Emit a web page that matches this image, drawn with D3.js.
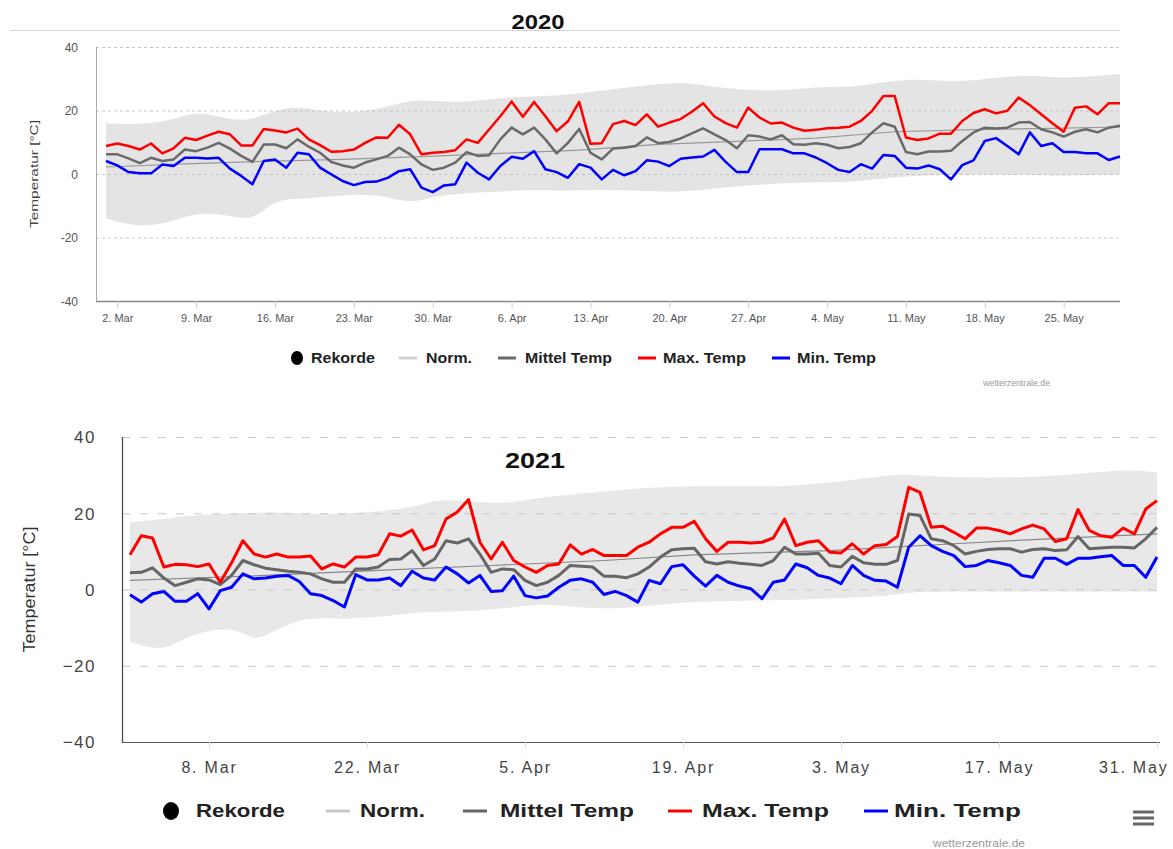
<!DOCTYPE html>
<html><head><meta charset="utf-8">
<script src="https://cdn.jsdelivr.net/npm/d3@7"></script>
<style>body{margin:0;background:#fff;}svg{display:block;font-family:"Liberation Sans",Arial,sans-serif;}</style>
</head><body>
<svg id="c" width="1173" height="849"></svg>
<script>
// ---------- DATA ----------
const yTickValues = [40, 20, 0, -20, -40];
const legendLabels = ["Rekorde", "Norm.", "Mittel Temp", "Max. Temp", "Min. Temp"];
const watermark = "wetterzentrale.de";
const yTitle = "Temperatur [°C]";

// 2020 (daily from 1 Mar 2020)
const title2020 = "2020";
const start2020 = "2020-03-01";
const ticks2020 = ["2. Mar","9. Mar","16. Mar","23. Mar","30. Mar","6. Apr","13. Apr","20. Apr","27. Apr","4. May","11. May","18. May","25. May"];
const max2020 = [
 8.8,9.6,8.8,7.7,9.6,6.5,8.1,11.4,10.7,12.1,
 13.3,12.5,9.0,9.0,14.2,13.7,13.1,14.3,10.9,9.1,
 7.0,7.2,7.7,9.8,11.5,11.4,15.5,12.5,6.2,6.7,
 6.9,7.5,10.9,9.8,14.0,18.2,22.8,18.0,22.7,18.2,
 13.5,16.6,22.7,9.5,9.7,15.7,16.7,15.4,18.8,14.9,
 16.2,17.3,19.6,22.3,18.1,16.0,14.6,20.9,17.8,15.9,
 16.2,14.6,13.6,13.9,14.4,14.6,14.9,16.7,19.9,24.6,
 24.6,11.5,10.7,11.2,12.7,12.7,16.7,19.2,20.4,19.1,
 19.9,24.1,21.7,18.8,16.0,13.3,20.9,21.3,18.8,22.3,
 22.3];
const mittel2020 = [
 6.2,6.2,4.9,3.4,5.1,4.1,4.6,7.7,7.2,8.3,
 9.8,8.0,5.7,3.8,9.3,9.3,8.1,10.9,8.6,6.7,
 3.8,2.7,2.0,3.6,4.6,5.7,8.3,6.2,3.0,1.3,
 2.0,3.6,6.9,5.7,5.9,10.9,14.6,12.5,14.6,10.9,
 6.5,9.8,14.2,6.7,4.6,8.0,8.3,8.8,11.5,9.7,
 10.1,11.2,12.8,14.4,12.5,10.7,8.1,12.2,11.8,10.9,
 12.2,9.4,9.2,9.7,9.2,8.1,8.5,9.7,13.1,16.0,
 14.9,6.9,6.2,7.1,7.1,7.3,10.4,13.1,14.6,14.3,
 14.6,16.2,16.4,14.1,13.1,11.8,13.3,14.1,13.1,14.6,
 15.2];
const min2020 = [
 4.1,2.7,0.6,0.2,0.2,3.0,2.5,5.1,5.1,4.9,
 5.1,1.7,-0.6,-3.2,4.1,4.6,2.0,6.7,6.2,2.0,
 -0.1,-2.2,-3.5,-2.5,-2.4,-1.2,0.9,1.5,-4.3,-5.7,
 -3.6,-3.2,3.6,0.4,-1.7,2.5,5.4,4.8,7.2,1.5,
 0.6,-1.2,3.1,2.0,-1.7,1.3,-0.4,0.9,4.3,3.9,
 2.5,4.8,5.2,5.5,7.6,3.8,0.6,0.6,7.8,7.8,
 7.8,6.5,6.5,5.2,3.4,1.3,0.6,3.1,1.7,6.0,
 5.7,2.0,1.7,2.7,1.5,-1.7,2.8,4.3,10.4,11.3,
 8.8,6.2,13.1,8.8,9.7,6.9,6.9,6.5,6.5,4.4,
 5.5];
const normDays2020 = [0,7,14,21,28,35,42,49,56,63,70,77,84,90];
const norm2020 = [2.2,3.2,4.0,4.6,5.5,6.5,7.5,9.3,10.3,11.3,13.3,14.0,14.4,14.8];
const bandDays2020 = [0,3,6,8,11,13,15,17,20,24,27,29,32,35,38,40,45,51,54,59,64,66,71,75,78,82,85,90];
const bandLow2020 = [-14,-17,-15,-12,-13,-15,-8,-8,-7,-6,-9.5,-7,-6,-5.5,-5,-5.4,-4.8,-5.9,-4.5,-3,-2.5,-2.7,-0.6,-0.3,-0.1,-0.3,-0.6,-0.1];
const bandHigh2020 = [16,15.5,17,20,17,17,20,21.5,19,20,23.5,23,22.5,24,24.5,24.6,26.7,29.4,27.3,25.7,27.8,27,30.4,28.8,29.9,31.5,29.9,31.5];

// 2021 (daily from 1 Mar 2021)
const title2021 = "2021";
const start2021 = "2021-03-01";
const ticks2021 = ["8. Mar","22. Mar","5. Apr","19. Apr","3. May","17. May","31. May"];
const max2021 = [
 9.1,14.1,13.5,5.9,6.6,6.5,6.0,6.7,1.9,7.0,
 12.8,9.3,8.5,9.3,8.5,8.5,8.8,5.4,6.7,5.9,
 8.5,8.5,9.1,14.6,14.0,15.6,10.4,11.5,18.5,20.3,
 23.6,12.4,8.0,12.4,7.6,5.9,4.5,6.3,6.7,11.7,
 9.3,10.5,8.9,8.9,8.9,11.1,12.4,14.6,16.3,16.3,
 17.9,13.3,10.0,12.4,12.4,12.2,12.4,13.5,18.5,11.5,
 12.4,12.8,9.8,9.6,12.0,9.3,11.5,11.8,13.9,26.8,
 25.5,16.3,16.6,15.0,13.3,16.1,16.1,15.5,14.6,15.9,
 16.9,15.9,12.6,13.3,21.0,15.5,14.1,13.7,16.1,14.6,
 21.1,23.3];
const mittel2021 = [
 4.4,4.5,5.7,3.0,1.0,1.9,2.8,2.5,1.3,3.7,
 7.6,6.5,5.6,5.2,4.8,4.5,4.1,2.8,1.9,1.9,
 5.4,5.4,5.9,7.9,8.0,10.2,6.3,8.0,12.8,12.2,
 13.3,9.3,4.5,5.4,5.2,2.4,1.0,1.9,3.7,6.3,
 6.1,5.9,3.5,3.5,3.1,4.1,5.9,8.5,10.4,10.7,
 10.8,7.3,6.7,7.3,6.9,6.6,6.3,7.6,11.1,9.3,
 9.3,9.5,6.3,5.9,8.7,7.0,6.6,6.6,7.6,19.8,
 19.4,13.3,12.8,11.5,9.3,10.0,10.5,10.7,10.7,9.8,
 10.5,10.7,10.2,10.4,13.9,10.7,10.9,11.1,11.1,10.9,
 13.3,16.3];
const min2021 = [
 -1.4,-3.3,-1.1,-0.5,-3.1,-3.1,-1.1,-5.1,-0.3,0.6,
 4.1,2.8,3.0,3.5,3.7,2.1,-1.1,-1.6,-2.9,-4.6,
 3.9,2.5,2.5,3.0,1.0,4.8,3.0,2.5,5.9,4.1,
 1.7,3.7,-0.5,-0.3,3.5,-1.6,-2.2,-1.7,0.6,2.4,
 2.8,1.9,-1.3,-0.5,-1.6,-3.3,2.4,1.5,6.0,6.5,
 3.5,0.9,3.7,1.9,0.9,0.2,-2.4,1.9,2.5,6.7,
 5.7,3.7,3.0,1.5,6.3,3.7,2.4,2.2,0.6,11.1,
 14.1,11.5,10.0,8.9,6.0,6.3,7.6,7.0,6.3,3.7,
 3.2,8.2,8.2,6.6,8.2,8.2,8.6,8.9,6.3,6.3,
 3.2,8.5];
const normDays2021 = [0,12,22,32,42,50,62,73,80,91];
const norm2021 = [2.4,3.7,5.0,6.3,7.6,9.1,10.2,12.0,13.1,14.6];
const bandDays2021 = [0,3,5,9,11,12,15,17,19,22,26,27,31,33,36,38,43,48,55,59,62,68,69,76,83,88,91];
const bandLow2021 = [-13.8,-16.4,-12,-9.4,-13.4,-12,-7.7,-7.5,-7.7,-7.2,-5.9,-5.9,-5.5,-5,-3.8,-4.2,-5.5,-3.3,-2.9,-2.7,-2.4,-1.6,-0.5,-0.5,-0.5,-0.5,-0.5];
const bandHigh2021 = [17.6,18.5,19.4,20,20,20.3,20,19.8,20,20.3,22,23.8,23,22.4,24,24.6,26,27.2,27,27.2,28,30.3,30,29,29.9,31.6,30.7];

// ---------- DRAWING ----------
const svg = d3.select("#c");
const parseDay = d3.utcParse("%Y-%m-%d");

function drawChart(o) {
  const g = svg.append("g");
  const start = parseDay(o.start);
  const day = i => d3.utcDay.offset(start, i);
  const x = d3.scaleUtc().domain([start, day(o.max.length - 1)]).range(o.xr);
  const y = d3.scaleLinear().domain([-40, 40]).range(o.yr);
  const yearStr = o.start.slice(0, 4);
  const tickParse = d3.utcParse("%d. %b %Y");
  const tickDates = o.ticks.map(t => tickParse(t + " " + yearStr));

  // band
  const band = o.bandDays.map((d, i) => ({d, lo: o.bandLow[i], hi: o.bandHigh[i]}));
  g.append("path").datum(band)
    .attr("d", d3.area().x(p => x(day(p.d))).y0(p => y(p.lo)).y1(p => y(p.hi)).curve(d3.curveBasis))
    .attr("fill", o.bandColor);

  // grid
  g.append("g").selectAll("line").data(yTickValues.filter(v => v > -40)).join("line")
    .attr("x1", o.plotL).attr("x2", o.plotR)
    .attr("y1", v => y(v) + 0.5).attr("y2", v => y(v) + 0.5)
    .attr("stroke", o.gridColor).attr("stroke-width", 1).attr("stroke-dasharray", o.gridDash);

  // y axis labels
  const ya = g.append("g").attr("transform", `translate(${o.yLabelX},0)`)
    .call(d3.axisLeft(y).tickValues(yTickValues).tickSize(0).tickPadding(0)
      .tickFormat(v => v < 0 ? o.minus + Math.abs(v) : String(v)));
  ya.select(".domain").remove();
  ya.selectAll("text").attr("font-size", o.yFont).attr("fill", o.labelColor)
    .attr("font-family", "inherit").attr("letter-spacing", o.yLetter).attr("dy", "0.35em");

  // axis lines
  g.append("line").attr("x1", o.plotL + 0.5).attr("x2", o.plotL + 0.5).attr("y1", o.yr[1]).attr("y2", o.yr[0])
    .attr("stroke", o.leftAxisColor).attr("stroke-width", o.leftAxisW);

  // x axis
  const xa = g.append("g").attr("transform", `translate(0,${o.yr[0]})`)
    .call(d3.axisBottom(x).tickValues(tickDates).tickSize(o.tickLen).tickPadding(o.xPad)
      .tickFormat((d, i) => o.ticks[i]));
  xa.select(".domain").attr("d", `M${o.plotL},0.5H${o.plotR}`).attr("stroke", o.bottomAxisColor).attr("stroke-width", o.bottomAxisW);
  xa.selectAll(".tick line").attr("stroke", o.tickColor);
  xa.selectAll("text").attr("font-size", o.xFont).attr("fill", o.labelColor)
    .attr("font-family", "inherit").attr("letter-spacing", o.xLetter);
  if (o.lastLabelEnd) {
    xa.selectAll(".tick").filter((d, i) => i === o.ticks.length - 1).select("text")
      .attr("text-anchor", "end").attr("x", o.lastLabelEnd - x(tickDates[tickDates.length - 1]));
  }

  // y title
  g.append("text").attr("transform", `translate(${o.yTitleX},${(o.yr[0] + o.yr[1]) / 2}) rotate(-90)`)
    .attr("text-anchor", "middle").attr("font-size", o.yTitleFont).attr("fill", o.yTitleColor)
    .attr("textLength", o.yTitleLen).attr("lengthAdjust", "spacingAndGlyphs").text(yTitle);

  // series
  const line = d3.line().x((v, i) => x(day(i))).y(v => y(v));
  const normLine = d3.line().x((v, i) => x(day(o.normDays[i]))).y(v => y(v));
  g.append("path").datum(o.norm).attr("d", normLine).attr("fill", "none")
    .attr("stroke", o.normColor).attr("stroke-width", o.normW);
  [[o.mittel, o.mittelColor], [o.max, "#ff0000"], [o.min, "#0000ff"]].forEach(([arr, c]) => {
    g.append("path").datum(arr).attr("d", line).attr("fill", "none")
      .attr("stroke", c).attr("stroke-width", o.lineW).attr("stroke-linejoin", "round");
  });

  // title
  g.append("text").attr("x", o.titleX).attr("y", o.titleY).attr("text-anchor", "middle")
    .attr("font-size", o.titleFont).attr("font-weight", "bold").attr("fill", "#111")
    .attr("textLength", o.titleLen).attr("lengthAdjust", "spacingAndGlyphs").text(o.title);

  // legend
  const lg = g.append("g");
  const colors = ["#000", o.normLegendColor, o.mittelColor, "#ff0000", "#0000ff"];
  legendLabels.forEach((lab, i) => {
    const it = o.legend[i];
    if (i === 0) {
      lg.append("ellipse").attr("cx", it.sym).attr("cy", o.legendY).attr("rx", o.dotRx).attr("ry", o.dotRy).attr("fill", "#000");
    } else {
      lg.append("line").attr("x1", it.sym).attr("x2", it.sym + o.symLen)
        .attr("y1", o.legendY).attr("y2", o.legendY).attr("stroke", colors[i]).attr("stroke-width", o.symW);
    }
    lg.append("text").attr("x", it.tx).attr("y", o.legendY).attr("dy", "0.36em")
      .attr("font-size", o.legendFont).attr("font-weight", "bold").attr("fill", "#222")
      .attr("textLength", it.w).attr("lengthAdjust", "spacingAndGlyphs").text(lab);
  });

  // watermark
  g.append("text").attr("x", o.wmX).attr("y", o.wmY).attr("font-size", o.wmFont).attr("fill", "#999")
    .attr("textLength", o.wmLen).attr("lengthAdjust", "spacingAndGlyphs").text(watermark);
}

// top rule for 2020 chart
svg.append("line").attr("x1", 10).attr("x2", 1120).attr("y1", 30.5).attr("y2", 30.5).attr("stroke", "#d8d8d8");

drawChart({
  title: title2020, start: start2020, ticks: ticks2020,
  max: max2020, mittel: mittel2020, min: min2020, norm: norm2020, normDays: normDays2020,
  bandDays: bandDays2020, bandLow: bandLow2020, bandHigh: bandHigh2020,
  xr: [106, 1120], yr: [301, 47], plotL: 96, plotR: 1120,
  bandColor: "#e4e4e4", gridColor: "#c4c4c4", gridDash: "3,3",
  yLabelX: 78, yFont: 12, yLetter: 0, minus: "-", labelColor: "#555",
  leftAxisColor: "#aaa", leftAxisW: 1, bottomAxisColor: "#888", bottomAxisW: 1.5,
  tickLen: 7, tickColor: "#ccc", xPad: 6, xFont: 11, xLetter: 0, lastLabelEnd: null,
  yTitleX: 38, yTitleFont: 11, yTitleColor: "#444", yTitleLen: 108,
  normColor: "#999", normW: 1.2, mittelColor: "#6a6a6a", lineW: 2.5,
  titleX: 538, titleY: 29, titleFont: 21, titleLen: 53,
  legendY: 358, dotRx: 6, dotRy: 7, symLen: 18, symW: 3, legendFont: 14, normLegendColor: "#d0d0d0",
  legend: [{sym: 297, tx: 311, w: 64}, {sym: 399, tx: 426, w: 46}, {sym: 498, tx: 525, w: 87},
           {sym: 638, tx: 663, w: 83}, {sym: 772, tx: 797, w: 79}],
  wmX: 983, wmY: 386, wmFont: 9, wmLen: 67
});

drawChart({
  title: title2021, start: start2021, ticks: ticks2021,
  max: max2021, mittel: mittel2021, min: min2021, norm: norm2021, normDays: normDays2021,
  bandDays: bandDays2021, bandLow: bandLow2021, bandHigh: bandHigh2021,
  xr: [130, 1157], yr: [742, 437], plotL: 122, plotR: 1160,
  bandColor: "#e8e8e8", gridColor: "#c8c8c8", gridDash: "8,10",
  yLabelX: 96, yFont: 17, yLetter: 1.5, minus: "\u2212", labelColor: "#444",
  leftAxisColor: "#444", leftAxisW: 1.2, bottomAxisColor: "#555", bottomAxisW: 1.2,
  tickLen: 6, tickColor: "#ddd", xPad: 14, xFont: 16, xLetter: 1.8, lastLabelEnd: 1168,
  yTitleX: 35, yTitleFont: 16, yTitleColor: "#333", yTitleLen: 126,
  normColor: "#888", normW: 1.2, mittelColor: "#666", lineW: 3,
  titleX: 535, titleY: 468, titleFont: 22, titleLen: 60,
  legendY: 811, dotRx: 8, dotRy: 9, symLen: 24, symW: 3, legendFont: 18, normLegendColor: "#c8c8c8",
  legend: [{sym: 171, tx: 196, w: 89}, {sym: 326, tx: 360, w: 65}, {sym: 463, tx: 500, w: 134},
           {sym: 668, tx: 702, w: 127}, {sym: 864, tx: 894, w: 127}],
  wmX: 933, wmY: 847, wmFont: 11, wmLen: 92
});

// menu icon (bottom chart)
svg.append("g").selectAll("line").data([0, 1, 2]).join("line")
  .attr("x1", 1133).attr("x2", 1154).attr("y1", k => 812 + k * 6).attr("y2", k => 812 + k * 6)
  .attr("stroke", "#666").attr("stroke-width", 3);
</script>
</body></html>
